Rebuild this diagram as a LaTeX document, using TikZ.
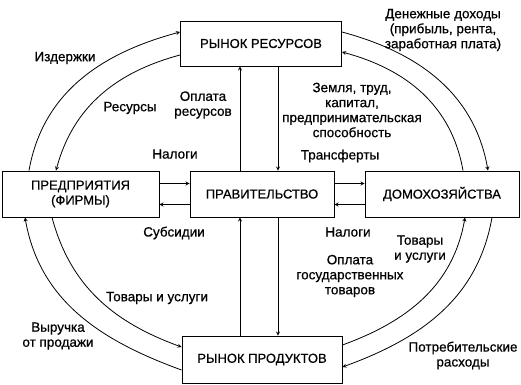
\documentclass[tikz,border=0pt]{standalone}
\usepackage{fontspec}
\setmainfont{Liberation Sans}[FakeBold=0.6]
\usepackage{tikz}

\begin{document}
\begin{tikzpicture}[>=stealth, x=1pt, y=1pt,
    box/.style={draw, line width=0.9pt, inner sep=0pt, align=center,
                font=\fontsize{13}{15}\selectfont},
    flow/.style={->, line width=0.8pt},
    lbl/.style={align=center, inner sep=0pt, font=\fontsize{13.5}{15}\selectfont}]
  \useasboundingbox (0,0) rectangle (521,384);
  % markets and sectors
  \node[box, minimum width=161, minimum height=45] (res) at (261,340.5) {РЫНОК РЕСУРСОВ};
  \node[box, minimum width=157, minimum height=46] (firm) at (80.5,190) {ПРЕДПРИЯТИЯ\\(ФИРМЫ)};
  \node[box, minimum width=144, minimum height=46] (gov) at (262,190) {ПРАВИТЕЛЬСТВО};
  \node[box, minimum width=154, minimum height=46] (house) at (442,190) {ДОМОХОЗЯЙСТВА};
  \node[box, minimum width=160, minimum height=47] (prod) at (262,24.5) {РЫНОК ПРОДУКТОВ};
  % government links
  \draw[flow] ([yshift=10.5]firm.east) -- ([yshift=10.5]gov.west);
  \draw[flow] ([yshift=-10.5]gov.west) -- ([yshift=-10.5]firm.east);
  \draw[flow] ([yshift=10.5]gov.east) -- ([yshift=10.5]house.west);
  \draw[flow] ([yshift=-10.5]house.west) -- ([yshift=-10.5]gov.east);
  \draw[flow] ([xshift=-22]gov.north) -- ([xshift=-22]gov.north |- res.south);
  \draw[flow] ([xshift=16]gov.north |- res.south) -- ([xshift=16]gov.north);
  \draw[flow] ([xshift=-22]gov.south |- prod.north) -- ([xshift=-22]gov.south);
  \draw[flow] ([xshift=16]gov.south) -- ([xshift=16]gov.south |- prod.north);
  % circular flows, top
  \draw[flow] ([xshift=-51.5]firm.north) to[out=80, in=195] ([yshift=11.5]res.west);
  \draw[flow] ([yshift=-11.5]res.west) to[out=195, in=75] ([xshift=-24.5]firm.north);
  \draw[flow] ([yshift=11.5]res.east) to[out=-15, in=100] ([xshift=46]house.north);
  \draw[flow] ([xshift=21]house.north) to[out=100, in=-15] ([yshift=-8.5]res.east);
  % circular flows, bottom
  \draw[flow] ([yshift=-10.5]prod.west) to[out=160, in=-80] ([xshift=-55.5]firm.south);
  \draw[flow] ([xshift=-28.5]firm.south) to[out=-75, in=160] ([yshift=12.5]prod.west);
  \draw[flow] ([yshift=14.5]prod.east) to[out=20, in=-100] ([xshift=23]house.south);
  \draw[flow] ([xshift=50]house.south) to[out=-100, in=20] ([yshift=-7.5]prod.east);
  % labels
  \node[lbl] (costs) at (65,326) {Издержки};
  \node[lbl] (resflow) at (130,276) {Ресурсы};
  \node[lbl] (respay) at (203,279) {Оплата\\ресурсов};
  \node[lbl] (taxfirm) at (175,230) {Налоги};
  \node[lbl] (income) at (443,354) {Денежные доходы\\(прибыль, рента,\\заработная плата)};
  \node[lbl] (factors) at (352,274) {Земля, труд,\\капитал,\\предпринимательская\\способность};
  \node[lbl] (transf) at (340,228) {Трансферты};
  \node[lbl] (subs) at (174,151) {Субсидии};
  \node[lbl] (taxhouse) at (348,152) {Налоги};
  \node[lbl] (govpay) at (350,108) {Оплата\\государственных\\товаров};
  \node[lbl] (goodsh) at (420,135) {Товары\\и услуги};
  \node[lbl] (goodsf) at (157,86) {Товары и услуги};
  \node[lbl] (revenue) at (58,48) {Выручка\\от продажи};
  \node[lbl] (spend) at (463,28.5) {Потребительские\\расходы};
\end{tikzpicture}
\end{document}
